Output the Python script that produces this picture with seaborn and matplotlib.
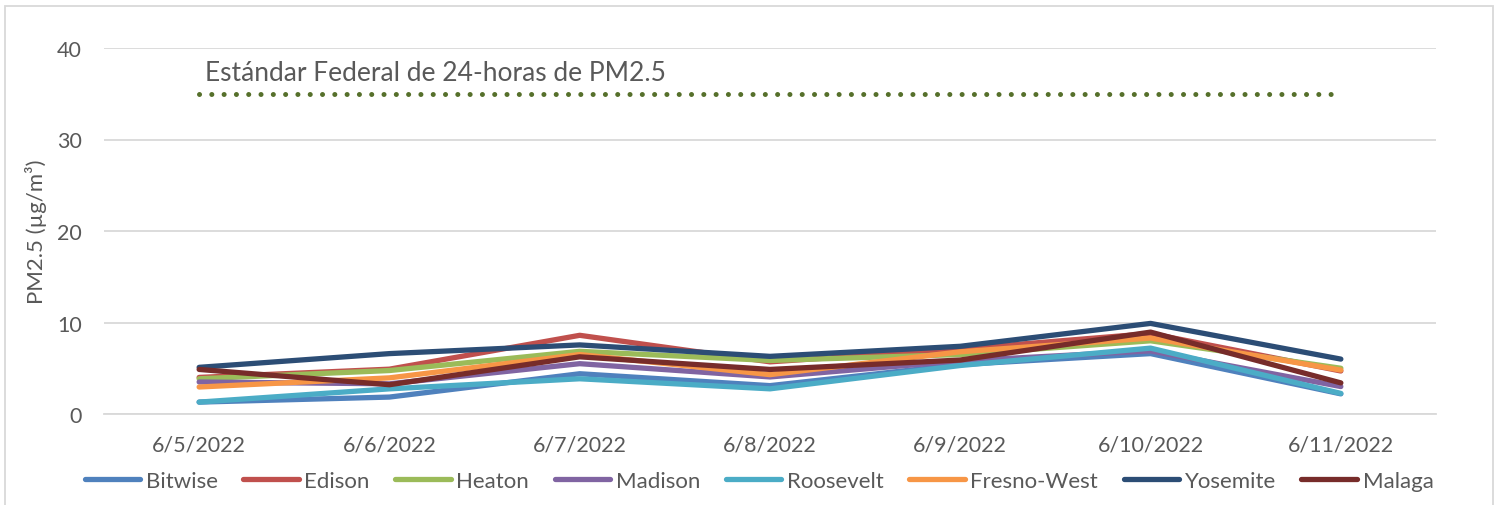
import numpy as np
import pandas as pd
import matplotlib
matplotlib.use("Agg")
import matplotlib.pyplot as plt
import seaborn as sns
from matplotlib.patches import Rectangle
from matplotlib.lines import Line2D

# dates on the x axis
dates = ["6/5/2022", "6/6/2022", "6/7/2022", "6/8/2022", "6/9/2022", "6/10/2022", "6/11/2022"]

# daily PM2.5 per site (ug/m3)
bitwise = [1.3, 1.85, 4.4, 3.1, 5.4, 6.6, 2.2]
edison = [4.0, 4.9, 8.6, 5.7, 7.1, 8.8, 4.7]
heaton = [3.85, 4.75, 6.85, 5.85, 6.5, 8.0, 5.0]
madison = [3.5, 3.3, 5.5, 4.05, 5.8, 6.9, 3.0]
roosevelt = [1.3, 2.75, 3.85, 2.75, 5.3, 7.2, 2.25]
fresno_west = [2.95, 3.95, 6.5, 4.3, 6.8, 8.3, 4.8]
yosemite = [5.1, 6.6, 7.55, 6.3, 7.4, 9.9, 6.0]
malaga = [4.87, 3.2, 6.25, 4.87, 5.9, 8.95, 3.4]

sites = ["Bitwise", "Edison", "Heaton", "Madison", "Roosevelt", "Fresno-West", "Yosemite", "Malaga"]
series = [bitwise, edison, heaton, madison, roosevelt, fresno_west, yosemite, malaga]
colors = ["#4F81BD", "#C0504D", "#9BBB59", "#8064A2", "#4BACC6", "#F79646", "#2C4D75", "#772C2A"]

# 24-hour federal standard
standard = [35] * len(dates)
standard_label = "Estándar Federal de 24-horas de PM2.5"

rows = []
for site, vals in zip(sites, series):
    for d, v in zip(dates, vals):
        rows.append({"date": d, "pm25": v, "site": site})
df = pd.DataFrame(rows)
std_df = pd.DataFrame({"date": dates, "pm25": standard})

sns.set_style("white")
plt.rcParams["font.family"] = ["Lato", "DejaVu Sans"]
txt = "#595959"
grid = "#D9D9D9"

fig = plt.figure(figsize=(14.98, 5.06), dpi=100)
ax = fig.add_axes([104 / 1498, 1 - 415 / 506, (1436 - 104) / 1498, (415 - 49) / 506])

sns.lineplot(data=std_df, x="date", y="pm25", sort=False, color="#56702B",
             linewidth=3.6, linestyle=(0, (0.01, 2.45)), dash_capstyle="round", ax=ax)

sns.lineplot(data=df, x="date", y="pm25", hue="site", hue_order=sites,
             palette=colors, sort=False, linewidth=3.8, ax=ax, legend=False,
             solid_capstyle="round", solid_joinstyle="round")

ax.text(0.03, 37.3, standard_label, fontsize=19, color=txt, ha="left", va="center")

ax.set_xlim(-0.5, len(dates) - 0.5)
ax.set_ylim(0, 40)
ax.set_yticks([0, 10, 20, 30, 40])
ax.yaxis.grid(True, color=grid, linewidth=1.3)
ax.set_axisbelow(True)
for s in ["top", "right", "left"]:
    ax.spines[s].set_visible(False)
ax.spines["bottom"].set_color(grid)
ax.spines["bottom"].set_linewidth(1.3)

ax.set_xticks(range(len(dates)))
ax.set_xticklabels(dates)
ax.set_xticks(np.arange(-0.5, len(dates)), minor=True)
ax.tick_params(axis="x", which="major", length=0, pad=15, labelsize=15.5, labelcolor=txt)
ax.tick_params(axis="x", which="minor", length=10, color=grid, width=1.3)
ax.tick_params(axis="y", length=0, pad=16, labelsize=15.5, labelcolor=txt)
ax.set_xlabel("")
ax.set_ylabel("PM2.5 (µg/m³)", fontsize=16, color=txt, labelpad=7)

handles = [Line2D([0], [0], color=c, linewidth=3.8, solid_capstyle="round") for c in colors]
fig.legend(handles, sites, loc="center", bbox_to_anchor=(759 / 1498, 1 - 482 / 506), ncol=8,
           frameon=False, fontsize=16, labelcolor=txt, handlelength=2.5,
           handletextpad=0.25, columnspacing=1.15)

fig.patches.append(Rectangle((5 / 1498, -0.02), 1488 / 1498, 1 - 7 / 506 + 0.02,
                             transform=fig.transFigure, fill=False, edgecolor=grid,
                             linewidth=1.3))

fig.savefig("out.png", dpi=100)
